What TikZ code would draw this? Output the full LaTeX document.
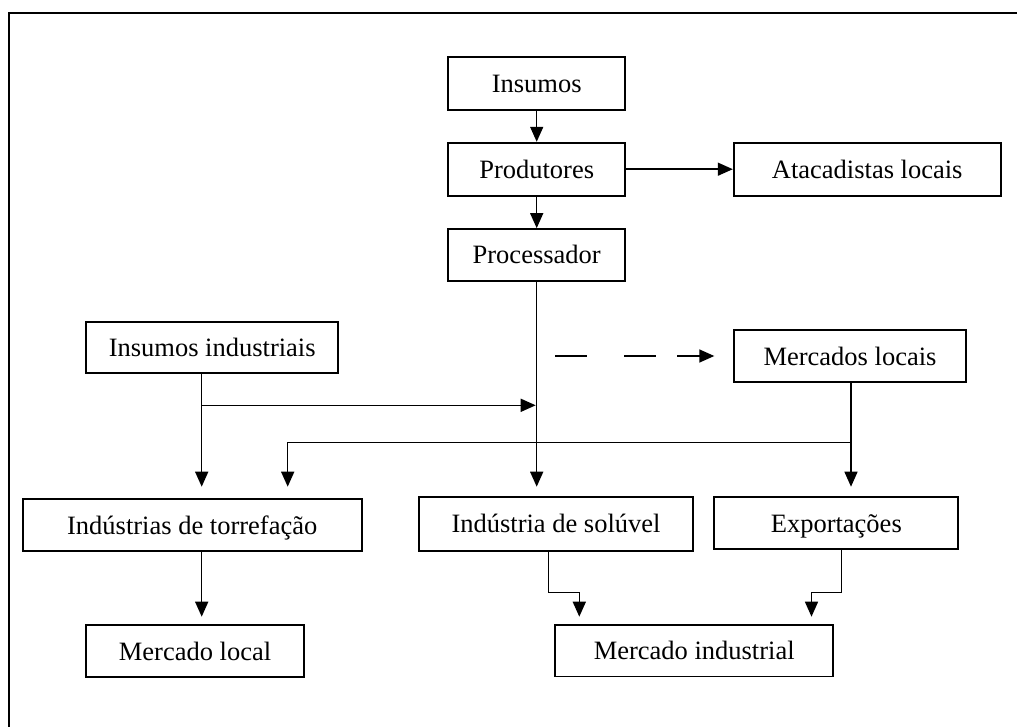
\documentclass[tikz,border=0pt]{standalone}
\usepackage{fontspec}
\setmainfont{Liberation Serif}
\usetikzlibrary{arrows.meta}
\begin{document}
\begin{tikzpicture}[x=1pt,y=-1pt,
  box/.style={draw,line width=1.8pt,inner sep=0pt,align=center,text height=18pt,text depth=0pt,font=\fontsize{26.5}{30}\selectfont},
  conn/.style={line width=1.5pt,-{Triangle[length=15pt,width=13pt]}}]
\useasboundingbox (0,0) rectangle (1017,727);
\draw[line width=2pt] (9,727) -- (9,13) -- (1017,13);

\node[box,minimum width=176.7pt,minimum height=53.3pt] (ins) at (536.7,83.7) {Insumos};
\node[box,minimum width=176.7pt,minimum height=53pt] (prod) at (536.7,169.2) {Produtores};
\node[box,minimum width=176.7pt,minimum height=51.7pt] (proc) at (536.7,254.9) {Processador};
\node[box,minimum width=267pt,minimum height=53pt] (atac) at (867.2,169.5) {Atacadistas locais};
\node[box,minimum width=252.3pt,minimum height=51.6pt] (insind) at (212.2,347.5) {Insumos industriais};
\node[box,minimum width=232pt,minimum height=52.3pt] (merloc) at (850,356.2) {Mercados locais};
\node[box,minimum width=339pt,minimum height=52.3pt] (torr) at (192.2,525.2) {Indústrias de torrefação};
\node[box,minimum width=274.6pt,minimum height=54pt] (sol) at (556,523.7) {Indústria de solúvel};
\node[box,minimum width=244pt,minimum height=52pt] (exp) at (836.3,523) {Exportações};
\node[box,minimum width=218.6pt,minimum height=52pt] (mloc) at (195,651) {Mercado local};
\node[box,minimum width=278.3pt,minimum height=51.5pt] (mind) at (694.2,650.8) {Mercado industrial};

% top chain
\draw[conn] (ins.south) -- (prod.north);
\draw[conn] (prod.south) -- (proc.north);
\draw[conn] (prod.east) -- (prod.east -| atac.west);

% processor to soluble
\coordinate (soltop) at (536.7,486.7);
\draw[conn] (proc.south) -- (soltop);

% dashed arrow
\coordinate (dashA) at (555,356);
\coordinate (dashB) at (714.3,356);
\draw[conn,dash pattern=on 32pt off 37pt on 32pt off 21pt] (dashA) -- (dashB);

% insumos industriais
\coordinate (iiA) at (201.7,373.3);
\coordinate (iiB) at (201.7,405.3);
\coordinate (iiC) at (535.7,405.3);
\coordinate (torrtop) at (201.7,486.7);
\draw[conn] (iiA) -- (torrtop);
\draw[conn] (iiB) -- (iiC);

% mercados locais
\coordinate (mlA) at (851,442.3);
\coordinate (mlB) at (287.7,442.3);
\coordinate (exptop) at (851,486.7);
\coordinate (torrtop2) at (287.7,486.7);
\draw[conn] (merloc.south -| mlA) -- (exptop);
\draw[conn] (mlA) -- (mlB) -- (torrtop2);

% torrefacao to mercado local
\coordinate (tA) at (201.7,551.3);
\coordinate (tB) at (201.7,616.7);
\draw[conn] (tA) -- (tB);

% soluvel to mercado industrial
\coordinate (sA) at (548.3,550.7);
\coordinate (sB) at (548.3,592.7);
\coordinate (sC) at (579.3,592.7);
\coordinate (sD) at (579.3,616.7);
\draw[conn] (sA) -- (sB) -- (sC) -- (sD);

% exportacoes to mercado industrial
\coordinate (eA) at (841.7,549);
\coordinate (eB) at (841.7,592.7);
\coordinate (eC) at (811.5,592.7);
\coordinate (eD) at (811.5,616.7);
\draw[conn] (eA) -- (eB) -- (eC) -- (eD);
\end{tikzpicture}
\end{document}
